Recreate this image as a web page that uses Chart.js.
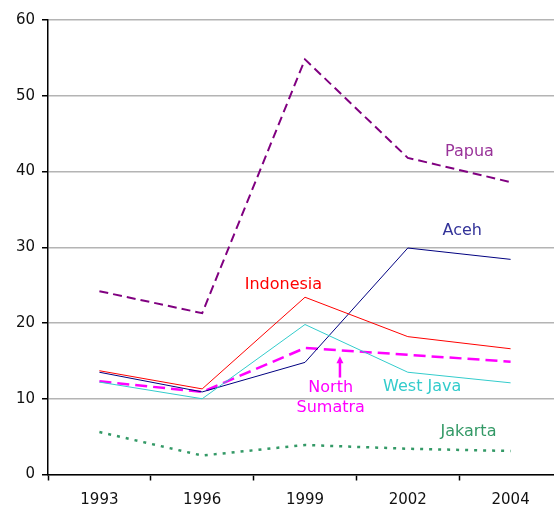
<!DOCTYPE html>
<html>
<head>
<meta charset="utf-8">
<script src="https://cdn.jsdelivr.net/npm/chart.js@4/dist/chart.umd.min.js"></script>
<style>
html,body{margin:0;padding:0;background:#fff;overflow:hidden;}
canvas{display:block;}
</style>
</head>
<body>
<canvas id="c" width="562" height="508"></canvas>
<script>
const years = ['1993', '1996', '1999', '2002', '2004'];
const yTicks = [0, 10, 20, 30, 40, 50, 60];
const papua = [24.2, 21.3, 54.8, 41.8, 38.6];
const aceh = [13.5, 10.9, 14.8, 29.9, 28.4];
const indonesia = [13.7, 11.3, 23.4, 18.2, 16.6];
const westJava = [12.2, 10.0, 19.8, 13.5, 12.1];
const northSumatra = [12.3, 10.9, 16.7, 15.8, 14.9];
const jakarta = [5.6, 2.5, 3.9, 3.4, 3.1];

// label anchors in data coordinates: [name, category index, value, colour]
const labels = [
  ['Papua', 3.6, 42.6, '#993399'],
  ['Aceh', 3.53, 32.1, '#333399'],
  ['Indonesia', 1.79, 25.1, '#ff0000'],
  ['North', 2.25, 11.5, '#ff00ff'],
  ['Sumatra', 2.25, 8.8, '#ff00ff'],
  ['West Java', 3.14, 11.6, '#33cccc'],
  ['Jakarta', 3.59, 5.6, '#339966']
];
const arrow = {x: 2.34, from: 12.8, to: 15.6, color: '#ff00ff'};

const annot = {
  id: 'annot',
  afterDatasetsDraw(chart) {
    const {ctx, scales: {x, y}} = chart;
    ctx.save();
    ctx.font = '16px "DejaVu Sans"';
    ctx.textAlign = 'center';
    ctx.textBaseline = 'middle';
    labels.forEach(([t, i, v, c]) => {
      ctx.fillStyle = c;
      ctx.fillText(t, x.getPixelForValue(i), y.getPixelForValue(v));
    });
    const ax = x.getPixelForValue(arrow.x);
    const y1 = y.getPixelForValue(arrow.from), y2 = y.getPixelForValue(arrow.to);
    ctx.strokeStyle = arrow.color; ctx.fillStyle = arrow.color;
    ctx.lineWidth = 2.5;
    ctx.beginPath(); ctx.moveTo(ax, y1); ctx.lineTo(ax, y2 + 4); ctx.stroke();
    ctx.beginPath(); ctx.moveTo(ax, y2); ctx.lineTo(ax - 3.5, y2 + 7); ctx.lineTo(ax + 3.5, y2 + 7); ctx.closePath(); ctx.fill();
    ctx.restore();
  }
};

function ds(label, data, color, width, dash) {
  return {label, data, borderColor: color, backgroundColor: color, borderWidth: width,
    borderDash: dash, pointRadius: 0, tension: 0, fill: false};
}

new Chart(document.getElementById('c'), {
  type: 'line',
  data: {
    labels: years,
    datasets: [
      ds('Jakarta', jakarta, '#339966', 2.5, [3, 6]),
      ds('West Java', westJava, '#33cccc', 1, []),
      ds('Indonesia', indonesia, '#ff0000', 1, []),
      ds('Aceh', aceh, '#000080', 1, []),
      ds('North Sumatra', northSumatra, '#ff00ff', 2.5, [12, 6]),
      ds('Papua', papua, '#800080', 2, [9, 5])
    ]
  },
  options: {
    responsive: false,
    animation: false,
    layout: {padding: {top: 20, right: 0, left: 0, bottom: 0}},
    plugins: {legend: {display: false}, tooltip: {enabled: false}},
    scales: {
      x: {
        offset: true,
        grid: {offset: true, drawOnChartArea: false, tickLength: 6, tickColor: '#000', tickWidth: 1.5},
        border: {color: '#000', width: 1.5},
        ticks: {color: '#111', font: {family: 'DejaVu Sans', size: 15}, padding: 11, maxRotation: 0},
        afterFit(s) { s.height = 33.5; }
      },
      y: {
        min: 0, max: 60,
        afterBuildTicks(s) { s.ticks = yTicks.map(v => ({value: v})); },
        grid: {color: '#b4b4b4', lineWidth: 1.5, tickLength: 6, tickColor: '#000', tickWidth: 1.5},
        border: {color: '#000', width: 1.5},
        ticks: {color: '#111', font: {family: 'DejaVu Sans', size: 15}, padding: 7},
        afterFit(s) { s.width = 48; }
      }
    }
  },
  plugins: [annot]
});
</script>
</body>
</html>
